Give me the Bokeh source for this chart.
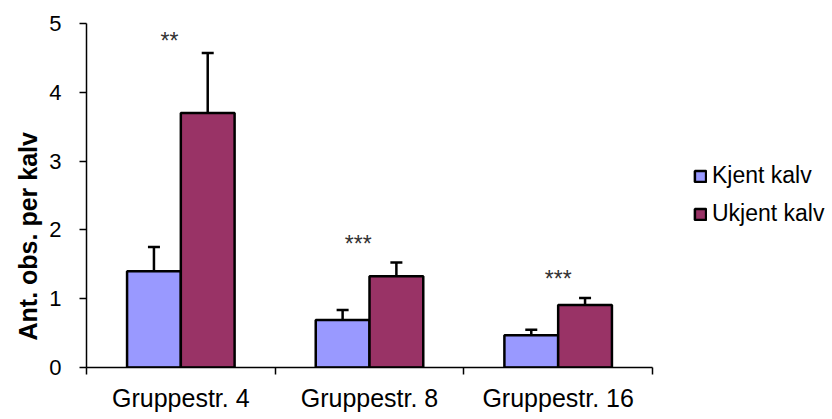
import numpy as np
from bokeh.plotting import figure
from bokeh.models import (Range1d, FixedTicker, Whisker, ColumnDataSource, Legend,
                          LegendItem, Title, TeeHead)
from bokeh.core.properties import value
from bokeh.embed import file_html
from bokeh.resources import INLINE

# ---- data ----
groups = ["Gruppestr. 4", "Gruppestr. 8", "Gruppestr. 16"]
series = ["Kjent kalv", "Ukjent kalv"]
kjent = [1.40, 0.69, 0.47]
kjent_err = [0.35, 0.145, 0.08]
ukjent = [3.70, 1.325, 0.91]
ukjent_err = [0.87, 0.20, 0.10]
sig_labels = ["**", "***", "***"]
sig_y = [4.75, 1.79, 1.28]
y_ticks = [0, 1, 2, 3, 4, 5]

FONT = "Liberation Sans"
BLUE = "#9999FF"
RED = "#993366"

idx = np.arange(len(groups))
centers = idx + 0.5
bar_w = 0.285
half = bar_w / 2
sig_dx = [-0.06, -0.06, 0.0]

p = figure(frame_width=566, frame_height=344,
           x_range=Range1d(0, len(groups)), y_range=Range1d(0, max(y_ticks)),
           output_backend="svg", toolbar_location=None,
           min_border_left=86, min_border_right=180,
           min_border_top=23, min_border_bottom=52)
p.outline_line_color = None
p.grid.visible = False
p.background_fill_color = "white"

src_k = ColumnDataSource(dict(x=centers - half, top=kjent,
                              upper=np.array(kjent) + np.array(kjent_err)))
src_u = ColumnDataSource(dict(x=centers + half, top=ukjent,
                              upper=np.array(ukjent) + np.array(ukjent_err)))

for src in (src_k, src_u):
    w = Whisker(source=src, base="x", lower="top", upper="upper", dimension="height",
                line_color="black", line_width=2.5, lower_head=None,
                upper_head=TeeHead(size=12, line_color="black", line_width=2.5),
                level="underlay")
    p.add_layout(w)

r_k = p.vbar(x="x", top="top", bottom=0, width=bar_w, source=src_k,
             fill_color=BLUE, line_color="black", line_width=2.5)
r_u = p.vbar(x="x", top="top", bottom=0, width=bar_w, source=src_u,
             fill_color=RED, line_color="black", line_width=2.5)

p.text(x=centers + np.array(sig_dx), y=sig_y, text=sig_labels,
       text_align="center", text_baseline="middle",
       text_font=value(FONT), text_font_size="23px", text_color="#333333")

# x axis: labels at category centres, ticks at category boundaries
xa = p.xaxis[0]
xa.ticker = FixedTicker(ticks=list(centers), minor_ticks=list(range(len(groups) + 1)))
xa.major_label_overrides = {float(c): g for c, g in zip(centers, groups)}
xa.major_tick_out = 0
xa.major_tick_in = 0
xa.minor_tick_out = 7
xa.minor_tick_in = 0
xa.minor_tick_line_color = "black"
xa.minor_tick_line_width = 1.5
xa.axis_line_color = "black"
xa.axis_line_width = 1.5
xa.major_label_standoff = 9
xa.major_label_text_font = FONT
xa.major_label_text_font_size = "25px"
xa.major_label_text_color = "black"

ya = p.yaxis[0]
ya.ticker = FixedTicker(ticks=y_ticks)
ya.major_tick_out = 7
ya.major_tick_in = 0
ya.minor_tick_line_color = None
ya.major_tick_line_color = "black"
ya.major_tick_line_width = 1.5
ya.axis_line_color = "black"
ya.axis_line_width = 1.5
ya.major_label_standoff = 18
ya.major_label_text_font = FONT
ya.major_label_text_font_size = "22px"
ya.major_label_text_color = "black"

p.add_layout(Title(text="Ant. obs. per kalv", align="left", offset=27,
                   text_font=FONT, text_font_size="25px", text_font_style="bold",
                   text_color="black"), "left")

legend = Legend(items=[LegendItem(label=series[0], renderers=[r_k]),
                       LegendItem(label=series[1], renderers=[r_u])],
                location=(41, 140), padding=0, margin=0,
                border_line_color=None, background_fill_alpha=0,
                glyph_width=14, glyph_height=14, label_height=24, spacing=11,
                label_standoff=5, label_text_font=FONT, label_text_font_size="23px",
                label_text_color="black")
p.add_layout(legend, "right")

open("out.html", "w").write(file_html(p, INLINE))
